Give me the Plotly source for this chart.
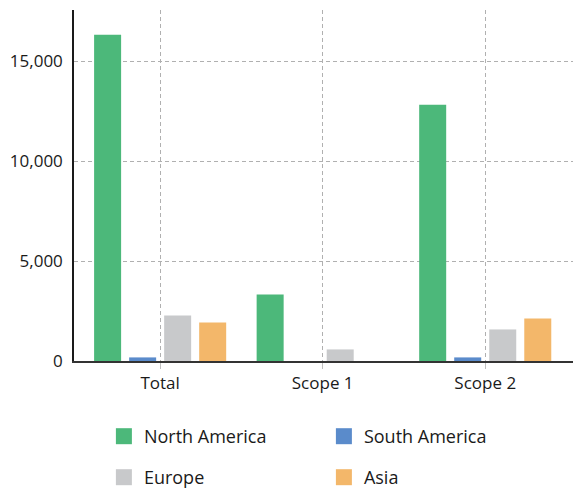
import plotly.graph_objects as go

# Emissions by region and scope
categories = ["Total", "Scope 1", "Scope 2"]
north_america = [16330, 3330, 12830]
south_america = [180, 0, 180]
europe = [2280, 580, 1580]
asia = [1930, 0, 2130]

y_ticks = [0, 5000, 10000, 15000]
y_tick_labels = ["0", "5,000", "10,000", "15,000"]

series = [
    ("North America", north_america, "#4cb87a", "legend"),
    ("South America", south_america, "#5a8bcb", "legend"),
    ("Europe", europe, "#c8c9cb", "legend2"),
    ("Asia", asia, "#f3b76a", "legend2"),
]

FONT = "Open Sans"
TEXT = "#1a1a1a"

fig = go.Figure()

for name, values, color, _ in series:
    fig.add_trace(go.Bar(
        x=categories, y=values, name=name,
        marker=dict(color=color, line=dict(width=0)),
        showlegend=False,
    ))

# Square swatches for the two-row legend
for name, _, color, legend_id in series:
    fig.add_trace(go.Scatter(
        x=[None], y=[None], name=name, mode="markers",
        marker=dict(symbol="square", size=19, color=color),
        legend=legend_id, showlegend=True,
    ))

legend_common = dict(
    orientation="h", xanchor="left", yanchor="middle",
    xref="container", yref="container",
    font=dict(family=FONT, size=18, color=TEXT),
    entrywidth=175, entrywidthmode="pixels",
    bgcolor="rgba(0,0,0,0)", borderwidth=0,
)

fig.update_layout(
    width=574, height=491,
    margin=dict(l=74, r=1, t=10, b=130, autoexpand=False),
    paper_bgcolor="white", plot_bgcolor="white",
    barmode="group", bargap=0.138, bargroupgap=0.229,
    font=dict(family=FONT, size=17, color=TEXT),
    legend=dict(x=0.181, y=0.111, **legend_common),
    legend2=dict(x=0.181, y=0.0275, **legend_common),
    xaxis=dict(
        type="category", range=[-0.53, 2.54],
        showgrid=True, gridcolor="#b0b0b0", gridwidth=1, griddash="4px,3px",
        showline=True, linecolor="#333333", linewidth=2,
        ticks="outside", ticklen=6, tickcolor="#c0c0c0", tickwidth=1,
        tickfont=dict(family=FONT, size=17, color=TEXT),
        zeroline=False, fixedrange=True,
    ),
    yaxis=dict(
        range=[0, 17575],
        tickvals=y_ticks, ticktext=y_tick_labels,
        showgrid=True, gridcolor="#b0b0b0", gridwidth=1, griddash="4px,3px",
        showline=True, linecolor="#1a1a1a", linewidth=1.5,
        ticks="", ticklabelstandoff=6,
        tickfont=dict(family=FONT, size=17, color=TEXT),
        zeroline=False, fixedrange=True,
    ),
)

fig.write_html("out.html")
